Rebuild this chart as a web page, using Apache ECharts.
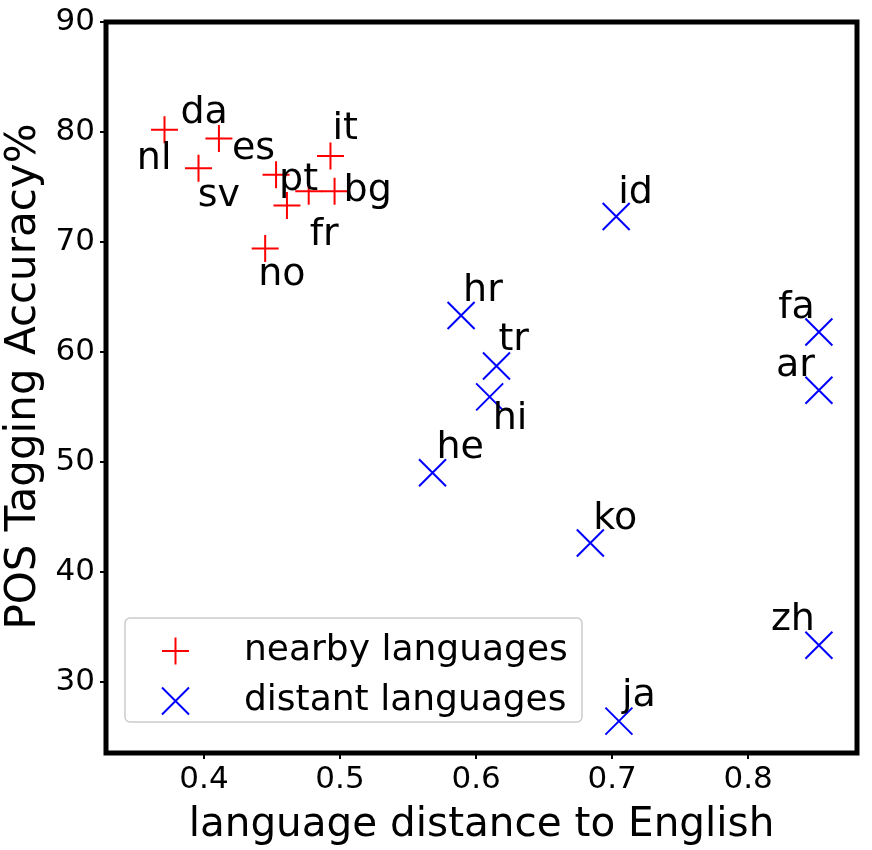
<!DOCTYPE html>
<html>
<head>
<meta charset="utf-8">
<script src="https://cdn.jsdelivr.net/npm/echarts@6/dist/echarts.min.js"></script>
<style>
  html, body { margin: 0; padding: 0; background: #fff; }
  #chart { width: 872px; height: 850px; }
</style>
</head>
<body>
<div id="chart"></div>
<script>
// data
var nearbyNames = ['da', 'es', 'nl', 'sv', 'pt', 'fr', 'it', 'bg', 'no'];
var nearbyDist  = [0.371, 0.411, 0.396, 0.461, 0.453, 0.477, 0.493, 0.496, 0.445];
var nearbyAcc   = [80.2, 79.4, 76.7, 73.3, 76.1, 74.6, 77.8, 74.6, 69.4];

var distantNames = ['id', 'hr', 'tr', 'hi', 'he', 'ko', 'zh', 'ja', 'fa', 'ar'];
var distantDist  = [0.703, 0.589, 0.615, 0.610, 0.568, 0.684, 0.852, 0.705, 0.852, 0.852];
var distantAcc   = [72.3, 63.3, 58.7, 55.9, 49.0, 42.6, 33.3, 26.4, 61.8, 56.5];

// where each name sits next to its marker (px from marker centre to text baseline)
var labelNudge = {
  da: [16, -3, 'left'], es: [13, 24, 'left'], nl: [-27, 4, 'right'], sv: [-47, 4, 'right'],
  pt: [3, 18, 'left'], fr: [1, 57, 'left'], it: [2, -14, 'left'], bg: [9, 13, 'left'],
  no: [-7, 40, 'left'],
  id: [2, -10, 'left'], hr: [2, -11, 'left'], tr: [2, -13, 'left'], hi: [3, 35, 'left'],
  he: [4, -11, 'left'], ko: [3, -11, 'left'], zh: [-4, -12, 'right'], ja: [3, -12, 'left'],
  fa: [-4, -11, 'right'], ar: [-4, -11, 'right']
};

var FONT = 'DejaVu Sans';
var LABEL_SIZE = 38;
var plusPath = 'path://M0,10L20,10M10,0L10,20';
var crossPath = 'path://M0,0L20,20M20,0L0,20';

function points(names, xs, ys) {
  return names.map(function (n, i) {
    var nd = labelNudge[n];
    return {
      name: n,
      value: [xs[i], ys[i]],
      label: { offset: [nd[0], nd[1] - LABEL_SIZE * 0.346], align: nd[2] }
    };
  });
}

function markStyle(c) {
  return { color: 'rgba(0,0,0,0)', borderColor: c, borderWidth: 2, opacity: 1 };
}

var labelBase = {
  show: true,
  position: 'inside',
  formatter: '{b}',
  color: '#000',
  fontSize: LABEL_SIZE,
  fontFamily: FONT,
  verticalAlign: 'middle'
};

var myChart = echarts.init(document.getElementById('chart'));
var option = {
  animation: false,
  backgroundColor: '#fff',
  textStyle: { fontFamily: FONT },
  grid: {
    left: 106, right: 15, top: 22, bottom: 97,
    outerBoundsMode: 'none',
    containLabel: false,
    show: true, borderColor: '#000', borderWidth: 5, backgroundColor: '#fff'
  },
  xAxis: {
    type: 'value',
    min: 0.328,
    max: 0.880,
    name: 'language distance to English',
    nameLocation: 'middle',
    nameGap: 52,
    nameTextStyle: { color: '#000', fontSize: 40.5, fontFamily: FONT },
    axisLine: { show: false },
    axisTick: { show: true, inside: false, length: 6, lineStyle: { color: '#000', width: 2 } },
    axisLabel: {
      color: '#000', fontSize: 31, fontFamily: FONT, margin: 11,
      showMinLabel: false, showMaxLabel: false,
      formatter: function (v) { return v.toFixed(1); }
    },
    splitLine: { show: false }
  },
  yAxis: {
    type: 'value',
    min: 23.5,
    max: 90,
    name: 'POS Tagging Accuracy%',
    nameLocation: 'middle',
    nameGap: 58,
    nameTextStyle: { color: '#000', fontSize: 42, fontFamily: FONT, padding: [0, 0, 0, 22] },
    axisLine: { show: false },
    axisTick: { show: true, inside: false, length: 6, lineStyle: { color: '#000', width: 2 } },
    axisLabel: { color: '#000', fontSize: 31, fontFamily: FONT, margin: 11, showMinLabel: false },
    splitLine: { show: false }
  },
  legend: {
    orient: 'vertical',
    left: 161,
    top: 631,
    padding: 0,
    z: 10,
    itemWidth: 27,
    itemHeight: 27,
    itemGap: 10,
    textStyle: { color: '#000', fontSize: 36, fontFamily: FONT, padding: [0, 0, 0, 50], lineHeight: 40 },
    data: [
      { name: 'nearby languages', icon: plusPath, itemStyle: markStyle('#ff0000') },
      { name: 'distant languages', icon: crossPath, itemStyle: markStyle('#0000ff') }
    ]
  },
  graphic: [{
    type: 'rect',
    shape: { x: 125, y: 618, width: 457, height: 104, r: 5 },
    style: { fill: 'rgba(255,255,255,0.8)', stroke: '#cccccc', lineWidth: 1.5 },
    z: 1
  }],
  series: [
    {
      name: 'nearby languages',
      type: 'scatter',
      symbol: plusPath,
      symbolSize: 27,
      itemStyle: markStyle('#ff0000'),
      label: labelBase,
      z: 3,
      data: points(nearbyNames, nearbyDist, nearbyAcc)
    },
    {
      name: 'distant languages',
      type: 'scatter',
      symbol: crossPath,
      symbolSize: 27,
      itemStyle: markStyle('#0000ff'),
      label: labelBase,
      z: 3,
      data: points(distantNames, distantDist, distantAcc)
    }
  ]
};
myChart.setOption(option);
</script>
</body>
</html>
